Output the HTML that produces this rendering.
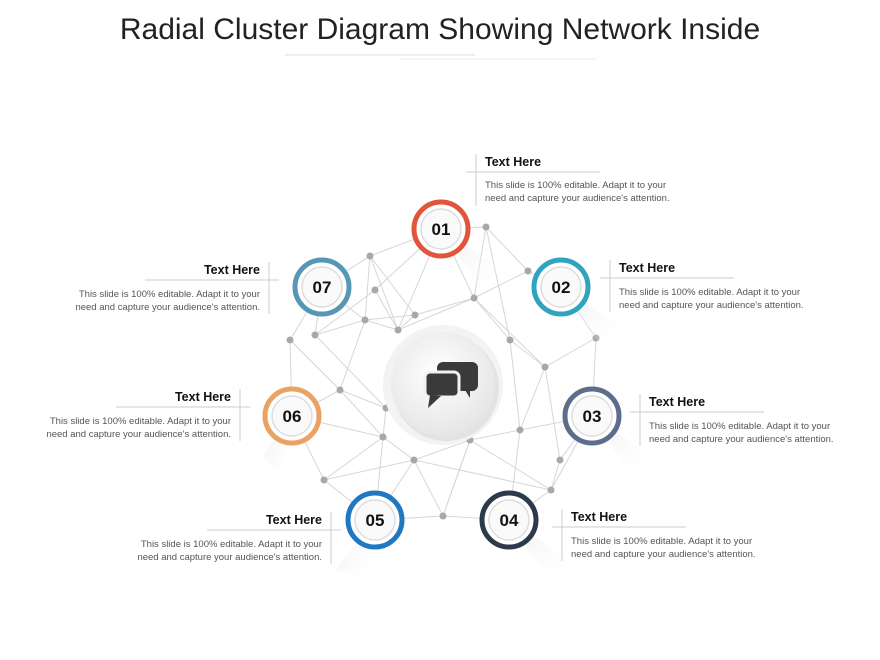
<!DOCTYPE html>
<html><head><meta charset="utf-8"><style>
body{margin:0;background:#fff;width:880px;height:660px;overflow:hidden}
svg{display:block}
.t{font-family:"Liberation Sans",sans-serif;font-weight:bold;font-size:12.5px;fill:#111}
.d{font-family:"Liberation Sans",sans-serif;font-size:9.5px;fill:#555}
.n{font-family:"Liberation Sans",sans-serif;font-weight:bold;font-size:17px;fill:#111}
</style></head><body>
<svg width="880" height="660" viewBox="0 0 880 660">
<defs>
<radialGradient id="cg" cx="0.45" cy="0.4" r="0.6"><stop offset="0" stop-color="#fff"/><stop offset="1" stop-color="#e6e6e6"/></radialGradient>
<linearGradient id="sh" x1="0" y1="0" x2="1" y2="1"><stop offset="0" stop-color="#ddd" stop-opacity="0.6"/><stop offset="1" stop-color="#fff" stop-opacity="0"/></linearGradient>
</defs>
<text x="440" y="39" text-anchor="middle" font-family="Liberation Sans,sans-serif" font-size="30" fill="#222">Radial Cluster Diagram Showing Network Inside</text>
<line x1="285" y1="55" x2="475" y2="55" stroke="#ddd"/>
<line x1="400" y1="59" x2="597" y2="59" stroke="#eee"/>
<g stroke="#d6d6d6" stroke-width="1" fill="none">
<polyline points="441,229 486,227 528,271 561,287 596,338 592,416 551,490 509,520 443,516 375,520 324,480 292,416 290,340 322,287 370,256 441,229"/>
<polyline points="370,256 398,330 441,229 474,298 486,227"/>
<polyline points="322,287 365,320 398,330 474,298 528,271"/>
<polyline points="290,340 340,390 365,320 415,315 474,298 545,367 596,338"/>
<polyline points="292,416 340,390 386,408 383,437 414,460 443,516 470,440 520,430 545,367"/>
<polyline points="324,480 383,437 292,416"/>
<polyline points="375,520 414,460 470,440 551,490 560,460 592,416 520,430 509,520"/>
<polyline points="375,520 383,437 340,390 290,340"/>
<polyline points="443,516 470,440 386,408 315,335 322,287"/>
<polyline points="315,335 365,320 370,256 415,315 398,330"/>
<polyline points="560,460 545,367 510,340 474,298"/>
<polyline points="324,480 414,460 551,490"/>
<polyline points="486,227 510,340 520,430"/>
<polyline points="441,229 375,290 315,335"/>
<polyline points="375,290 398,330"/>
</g>
<g fill="#a8a8a8">
<circle cx="486" cy="227" r="3.5"/><circle cx="528" cy="271" r="3.5"/><circle cx="370" cy="256" r="3.5"/><circle cx="474" cy="298" r="3.5"/><circle cx="398" cy="330" r="3.5"/><circle cx="365" cy="320" r="3.5"/><circle cx="415" cy="315" r="3.5"/><circle cx="596" cy="338" r="3.5"/><circle cx="545" cy="367" r="3.5"/><circle cx="290" cy="340" r="3.5"/><circle cx="315" cy="335" r="3.5"/><circle cx="340" cy="390" r="3.5"/><circle cx="386" cy="408" r="3.5"/><circle cx="383" cy="437" r="3.5"/><circle cx="414" cy="460" r="3.5"/><circle cx="470" cy="440" r="3.5"/><circle cx="520" cy="430" r="3.5"/><circle cx="560" cy="460" r="3.5"/><circle cx="551" cy="490" r="3.5"/><circle cx="443" cy="516" r="3.5"/><circle cx="324" cy="480" r="3.5"/><circle cx="510" cy="340" r="3.5"/><circle cx="375" cy="290" r="3.5"/>
</g>
<!-- center -->
<circle cx="443" cy="385" r="60" fill="#f3f3f3"/>
<circle cx="446" cy="388" r="53" fill="#d8d8d8" opacity="0.6"/>
<circle cx="443" cy="384" r="52" fill="url(#cg)"/>
<g fill="#3a3a3a">
<rect x="437" y="362" width="41" height="29" rx="6"/>
<path d="M465,390 L470,398 L470,389 Z"/>
<rect x="425" y="372" width="34" height="25" rx="5" stroke="#f2f2f2" stroke-width="3"/>
<path d="M430,395 L428,408 L441,396 Z"/>
</g>
<!-- numbered circles -->
<g>
<g transform="translate(441,229)"><path d="M0,0 L60,40 L40,60 Z" fill="url(#sh)"/><circle r="27" fill="#fff" stroke="#e2553d" stroke-width="5"/><circle r="20" fill="#fafafa" stroke="#ddd" stroke-width="1.5"/><text class="n" y="6" text-anchor="middle">01</text></g>
<g transform="translate(561,287)"><path d="M0,0 L60,40 L40,60 Z" fill="url(#sh)"/><circle r="27" fill="#fff" stroke="#2fa3bf" stroke-width="5"/><circle r="20" fill="#fafafa" stroke="#ddd" stroke-width="1.5"/><text class="n" y="6" text-anchor="middle">02</text></g>
<g transform="translate(592,416)"><path d="M0,0 L60,40 L40,60 Z" fill="url(#sh)"/><circle r="27" fill="#fff" stroke="#5b6f8c" stroke-width="5"/><circle r="20" fill="#fafafa" stroke="#ddd" stroke-width="1.5"/><text class="n" y="6" text-anchor="middle">03</text></g>
<g transform="translate(509,520)"><path d="M0,0 L60,40 L40,60 Z" fill="url(#sh)"/><circle r="27" fill="#fff" stroke="#2c3a4c" stroke-width="5"/><circle r="20" fill="#fafafa" stroke="#ddd" stroke-width="1.5"/><text class="n" y="6" text-anchor="middle">04</text></g>
<g transform="translate(375,520)"><path d="M0,0 L-10,60 L-40,50 Z" fill="url(#sh)"/><circle r="27" fill="#fff" stroke="#1f78c1" stroke-width="5"/><circle r="20" fill="#fafafa" stroke="#ddd" stroke-width="1.5"/><text class="n" y="6" text-anchor="middle">05</text></g>
<g transform="translate(292,416)"><path d="M0,0 L-30,40 L-10,60 Z" fill="url(#sh)"/><circle r="27" fill="#fff" stroke="#e9a262" stroke-width="5"/><circle r="20" fill="#fafafa" stroke="#ddd" stroke-width="1.5"/><text class="n" y="6" text-anchor="middle">06</text></g>
<g transform="translate(322,287)"><circle r="27" fill="#fff" stroke="#5896b5" stroke-width="5"/><circle r="20" fill="#fafafa" stroke="#ddd" stroke-width="1.5"/><text class="n" y="6" text-anchor="middle">07</text></g>
</g>
<!-- text blocks -->
<g stroke="#ccc" stroke-width="1">
<line x1="476" y1="154" x2="476" y2="206"/><line x1="466" y1="172" x2="600" y2="172"/>
<line x1="610" y1="260" x2="610" y2="312"/><line x1="600" y1="278" x2="734" y2="278"/>
<line x1="640" y1="394" x2="640" y2="446"/><line x1="630" y1="412" x2="764" y2="412"/>
<line x1="562" y1="509" x2="562" y2="561"/><line x1="552" y1="527" x2="686" y2="527"/>
<line x1="269" y1="262" x2="269" y2="314"/><line x1="145" y1="280" x2="279" y2="280"/>
<line x1="240" y1="389" x2="240" y2="441"/><line x1="116" y1="407" x2="250" y2="407"/>
<line x1="331" y1="512" x2="331" y2="564"/><line x1="207" y1="530" x2="341" y2="530"/>
</g>
<text class="t" x="485" y="166">Text Here</text>
<text class="d" x="485" y="188">This slide is 100% editable. Adapt it to your</text>
<text class="d" x="485" y="201">need and capture your audience's attention.</text>
<text class="t" x="619" y="272">Text Here</text>
<text class="d" x="619" y="295">This slide is 100% editable. Adapt it to your</text>
<text class="d" x="619" y="308">need and capture your audience's attention.</text>
<text class="t" x="649" y="406">Text Here</text>
<text class="d" x="649" y="429">This slide is 100% editable. Adapt it to your</text>
<text class="d" x="649" y="442">need and capture your audience's attention.</text>
<text class="t" x="571" y="521">Text Here</text>
<text class="d" x="571" y="544">This slide is 100% editable. Adapt it to your</text>
<text class="d" x="571" y="557">need and capture your audience's attention.</text>
<g text-anchor="end">
<text class="t" x="260" y="274">Text Here</text>
<text class="d" x="260" y="297">This slide is 100% editable. Adapt it to your</text>
<text class="d" x="260" y="310">need and capture your audience's attention.</text>
<text class="t" x="231" y="401">Text Here</text>
<text class="d" x="231" y="424">This slide is 100% editable. Adapt it to your</text>
<text class="d" x="231" y="437">need and capture your audience's attention.</text>
<text class="t" x="322" y="524">Text Here</text>
<text class="d" x="322" y="547">This slide is 100% editable. Adapt it to your</text>
<text class="d" x="322" y="560">need and capture your audience's attention.</text>
</g>
</svg>
</body></html>
